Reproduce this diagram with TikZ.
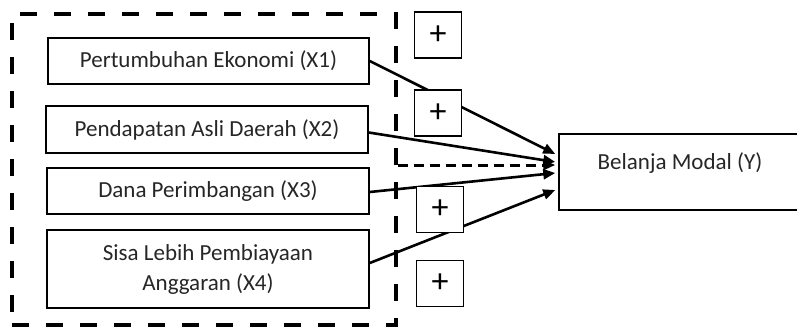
\documentclass[tikz,border=0pt]{standalone}
\usepackage{fontspec}
\setmainfont{Carlito}
\usetikzlibrary{arrows.meta,calc}
\begin{document}
\begin{tikzpicture}[x=1pt,y=-1pt,
  varbox/.style={draw, line width=1.5pt, inner sep=0pt, font=\fontsize{23}{30}\selectfont, align=center, text=black!85},
  plusbox/.style={draw, fill=white, line width=1.5pt, inner sep=0pt, minimum width=47pt, minimum height=46pt, font=\fontsize{34}{34}\selectfont},
  grpbox/.style={draw, line width=3.5pt, dash pattern=on 17pt off 17pt, inner sep=0pt},
  link/.style={line width=2.6pt, -{Triangle[length=12pt,width=10pt]}},
  dlink/.style={line width=3pt, dash pattern=on 10pt off 6pt, -{Triangle[length=12pt,width=10pt]}}]
\useasboundingbox (0,0) rectangle (797,327);
\clip (0,0) rectangle (797,327);
% variable boxes
\node (X1) [varbox, minimum width=321pt, minimum height=46pt] at (208.5,61) {Pertumbuhan Ekonomi (X1)};
\node (X2) [varbox, minimum width=322pt, minimum height=47pt] at (207,129.5) {Pendapatan Asli Daerah (X2)};
\node (X3) [varbox, minimum width=322pt, minimum height=46pt] at (208,191) {Dana Perimbangan (X3)};
\node (X4) [varbox, minimum width=322pt, minimum height=78pt] at (208,269) {Sisa Lebih Pembiayaan\\Anggaran (X4)};
% dependent box
\node (Y) [draw, line width=1.5pt, minimum width=242pt, minimum height=76pt, inner sep=0pt] at (680,172) {};
\node (Ylab) [font=\fontsize{23}{30}\selectfont, text=black!85] at ($(Y.center)+(0,-9)$) {Belanja Modal (Y)};
% group dashed box
\node (grp) [grpbox, minimum width=384pt, minimum height=311pt] at (204,169.5) {};
% connectors
\draw[link] (X1.east) -- ($(Y.west)+(-3,-18)$);
\draw[link] ($(X2.east)+(0,3)$) -- ($(Y.west)+(-3,-10)$);
\draw[dlink] ($(grp.east)+(0,-4.5)$) -- ($(Y.west)+(-3,-7)$);
\draw[link] ($(X3.east)+(0,1)$) -- ($(Y.west)+(-3,1)$);
\draw[link] ($(X4.east)+(0,-6)$) -- ($(Y.west)+(-3,18)$);
% plus boxes
\node (P1) [plusbox] at (438,35) {+};
\node (P2) [plusbox] at (438,113) {+};
\node (P3) [plusbox] at (440,209.5) {+};
\node (P4) [plusbox] at (440,283.5) {+};
\end{tikzpicture}
\end{document}
